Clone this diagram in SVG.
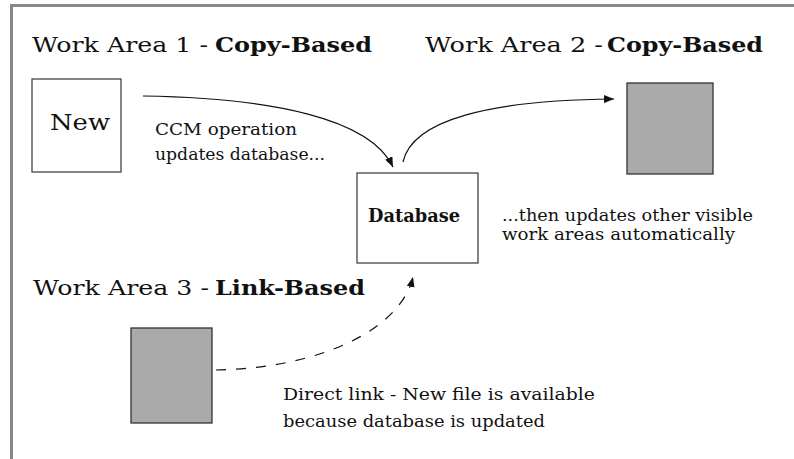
<svg xmlns="http://www.w3.org/2000/svg" width="794" height="459" viewBox="0 0 794 459">
<defs>
<style>
.f{font-family:"DejaVu Serif","Liberation Serif","Times New Roman",serif;fill:#111}
.h{font-size:20px}
.b{font-weight:bold}
.t{font-size:16px}
.box{fill:#fff;stroke:#444;stroke-width:1.3}
.gray{fill:#aaaaaa;stroke:#333;stroke-width:1.3}
.c{fill:none;stroke:#111;stroke-width:1.2}
</style>
<marker id="ah" viewBox="0 0 10 8" refX="10" refY="4" markerWidth="10" markerHeight="8" markerUnits="userSpaceOnUse" orient="auto">
<path d="M0,0 L10,4 L0,8 Z" fill="#111"/>
</marker>
</defs>
<rect width="794" height="459" fill="#fff"/>
<g id="frame">
<path d="M11.5,459 V5.5 H794" fill="none" stroke="#888" stroke-width="3"/>
</g>
<g id="labels" class="f">
<text class="h" x="32" y="52" textLength="176" lengthAdjust="spacingAndGlyphs">Work Area 1 -</text>
<text class="h b" x="215" y="52" textLength="157" lengthAdjust="spacingAndGlyphs">Copy-Based</text>
<text class="h" x="425" y="52" textLength="178" lengthAdjust="spacingAndGlyphs">Work Area 2 -</text>
<text class="h b" x="607" y="52" textLength="156" lengthAdjust="spacingAndGlyphs">Copy-Based</text>
<text class="h" x="33" y="295" textLength="176" lengthAdjust="spacingAndGlyphs">Work Area 3 -</text>
<text class="h b" x="215" y="295" textLength="150" lengthAdjust="spacingAndGlyphs">Link-Based</text>
<text class="t" x="155" y="135" textLength="142" lengthAdjust="spacingAndGlyphs">CCM operation</text>
<text class="t" x="155" y="160" textLength="170" lengthAdjust="spacingAndGlyphs">updates database...</text>
<text class="t" x="502" y="221" textLength="251" lengthAdjust="spacingAndGlyphs">...then updates other visible</text>
<text class="t" x="502" y="240" textLength="233" lengthAdjust="spacingAndGlyphs">work areas automatically</text>
<text class="t" x="283" y="400" textLength="312" lengthAdjust="spacingAndGlyphs">Direct link - New file is available</text>
<text class="t" x="283" y="427" textLength="262" lengthAdjust="spacingAndGlyphs">because database is updated</text>
</g>
<g id="node-new" class="f">
<rect class="box" x="32" y="79" width="89" height="93"/>
<text x="50" y="130" font-size="22" textLength="60" lengthAdjust="spacingAndGlyphs">New</text>
</g>
<g id="node-database" class="f">
<rect class="box" x="357" y="173" width="121" height="90"/>
<text class="b" x="368" y="222" font-size="18" textLength="92" lengthAdjust="spacingAndGlyphs">Database</text>
</g>
<g id="node-wa2">
<rect class="gray" x="627" y="83" width="86" height="91"/>
</g>
<g id="node-wa3">
<rect class="gray" x="131" y="328" width="81" height="95"/>
</g>
<g id="connectors">
<path class="c" d="M143,96 C270,98 370,118 393,167" marker-end="url(#ah)"/>
<path class="c" d="M403,162 C412,120 490,100 614,99" marker-end="url(#ah)"/>
<path class="c" d="M216,370 C320,368 400,330 413,277" stroke-dasharray="10,10" marker-end="url(#ah)"/>
</g>
</svg>
